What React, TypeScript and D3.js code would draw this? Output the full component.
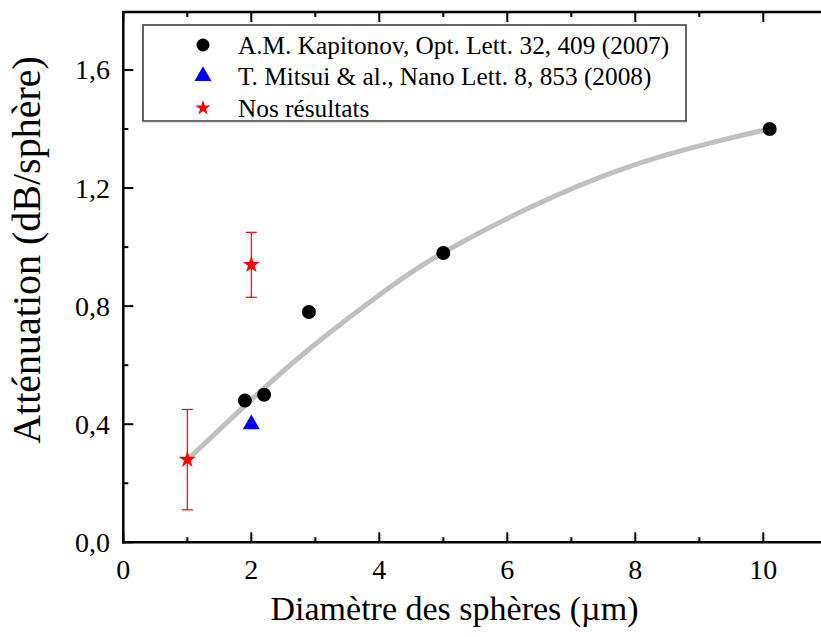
import React from "react";
import * as d3 from "d3";

const kapX = [1.9, 2.2, 2.9, 5.0, 10.1];
const kapY = [0.48, 0.5, 0.78, 0.98, 1.4];
const mitX = [2.0];
const mitY = [0.4];
const ourX = [1.0, 2.0];
const ourY = [0.28, 0.94];
const ourLo = [0.11, 0.83];
const ourHi = [0.45, 1.05];
const fitX = [1.0, 1.93, 2.87, 4.22, 4.79, 6.35, 7.92, 9.48, 10.09];
const fitY = [0.279, 0.47, 0.655, 0.875, 0.96, 1.14, 1.283, 1.37, 1.4];
const xMajor = [0, 2, 4, 6, 8, 10];
const xMinor = [1, 3, 5, 7, 9];
const yMajor = [0, 0.4, 0.8, 1.2, 1.6];
const yMinor = [0.2, 0.6, 1.0, 1.4];
const legendLabels = [
  "A.M. Kapitonov, Opt. Lett. 32, 409 (2007)",
  "T. Mitsui & al., Nano Lett. 8, 853 (2008)",
  "Nos résultats",
];

const W = 821;
const H = 637;
const FONT = "'Liberation Serif', 'Times New Roman', serif";

export default function App() {
  const x = d3.scaleLinear().domain([0, 11]).range([123.3, 123.3 + 64 * 11]);
  const y = d3.scaleLinear().domain([0, 1.8]).range([542.3, 542.3 - 295.2 * 1.8]);
  const x0 = x(0);
  const y0 = y(0);
  const yTop = 12;
  const xRight = x(11);

  const fitLine = d3
    .line<number>()
    .x((_, i) => x(fitX[i]))
    .y((d) => y(d))
    .curve(d3.curveBasis);

  const circle = d3.symbol(d3.symbolCircle, Math.PI * 49)();
  const triangle = d3.symbol(d3.symbolTriangle, 125)();
  const star = d3.symbol(d3.symbolStar, 81 / 0.8908)();
  const starLeg = d3.symbol(d3.symbolStar, 64 / 0.8908)();
  const circleLeg = d3.symbol(d3.symbolCircle, Math.PI * 42)();

  return (
    <div style={{ position: "fixed", left: 0, top: 0, width: W, height: H, background: "#fff" }}>
      <svg width={W} height={H} style={{ display: "block" }} fontFamily={FONT}>
        <rect x={0} y={0} width={W} height={H} fill="#fff" />
        {/* fit curve */}
        <path d={fitLine(fitY) || ""} fill="none" stroke="#c0c0c0" strokeWidth={5} />

        {/* error bars */}
        {ourX.map((v, i) => (
          <g key={"e" + i} stroke="#ff0000" strokeWidth={1.2}>
            <line x1={x(v)} x2={x(v)} y1={y(ourLo[i])} y2={y(ourHi[i])} />
            <line x1={x(v) - 5.5} x2={x(v) + 5.5} y1={y(ourLo[i])} y2={y(ourLo[i])} />
            <line x1={x(v) - 5.5} x2={x(v) + 5.5} y1={y(ourHi[i])} y2={y(ourHi[i])} />
          </g>
        ))}

        {/* points */}
        {kapX.map((v, i) => (
          <path key={"k" + i} d={circle || ""} transform={`translate(${x(v)},${y(kapY[i])})`} fill="#000" />
        ))}
        {mitX.map((v, i) => (
          <path key={"m" + i} d={triangle || ""} transform={`translate(${x(v)},${y(mitY[i])})`} fill="#0000ff" />
        ))}
        {ourX.map((v, i) => (
          <path key={"o" + i} d={star || ""} transform={`translate(${x(v)},${y(ourY[i])})`} fill="#ff0000" />
        ))}

        {/* axes frame */}
        <g stroke="#000" strokeWidth={2.5} fill="none">
          <line x1={x0} x2={x0} y1={yTop} y2={y0 + 1.25} />
          <line x1={x0 - 1.25} x2={xRight} y1={y0} y2={y0} />
          <line x1={x0 - 1.25} x2={xRight} y1={yTop} y2={yTop} />
          <line x1={xRight} x2={xRight} y1={yTop} y2={y0} />
        </g>
        <g stroke="#000" strokeWidth={2}>
          {xMajor.map((v) => (
            <g key={"xm" + v}>
              <line x1={x(v)} x2={x(v)} y1={y0} y2={y0 - 10} />
              <line x1={x(v)} x2={x(v)} y1={yTop} y2={yTop + 10} />
            </g>
          ))}
          {xMinor.map((v) => (
            <g key={"xn" + v}>
              <line x1={x(v)} x2={x(v)} y1={y0} y2={y0 - 5} />
              <line x1={x(v)} x2={x(v)} y1={yTop} y2={yTop + 5} />
            </g>
          ))}
          {yMajor.map((v) => (
            <line key={"ym" + v} x1={x0} x2={x0 + 10} y1={y(v)} y2={y(v)} />
          ))}
          {yMinor.map((v) => (
            <line key={"yn" + v} x1={x0} x2={x0 + 5} y1={y(v)} y2={y(v)} />
          ))}
        </g>

        {/* tick labels */}
        <g fontSize={28} fill="#000">
          {xMajor.map((v) => (
            <text key={"xl" + v} x={x(v)} y={579} textAnchor="middle">
              {String(v)}
            </text>
          ))}
          {yMajor.map((v) => (
            <text key={"yl" + v} x={110} y={y(v) + 9.5} textAnchor="end">
              {v.toFixed(1).replace(".", ",")}
            </text>
          ))}
        </g>

        {/* axis titles */}
        <text x={454.5} y={620} fontSize={34} textAnchor="middle" fill="#000">
          Diamètre des sphères (µm)
        </text>
        <text transform="translate(40,250) rotate(-90)" fontSize={40} textAnchor="middle" fill="#000">
          Atténuation (dB/sphère)
        </text>

        {/* legend */}
        <rect x={143} y={25} width={543} height={96} fill="#fff" stroke="#333" strokeWidth={1.5} />
        <line x1={143} x2={686.5} y1={121.5} y2={121.5} stroke="#777" strokeWidth={1.5} />
        <path d={circleLeg || ""} transform="translate(203,45)" fill="#000" />
        <path d={triangle || ""} transform="translate(203,76)" fill="#0000ff" />
        <path d={starLeg || ""} transform="translate(203,108)" fill="#ff0000" />
        <g fontSize={25.3} fill="#000">
          {legendLabels.map((t, i) => (
            <text key={"lg" + i} x={238} y={53.5 + i * 31.6}>
              {t}
            </text>
          ))}
        </g>
      </svg>
    </div>
  );
}
